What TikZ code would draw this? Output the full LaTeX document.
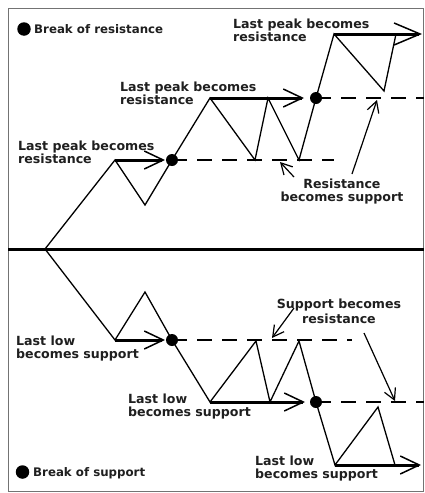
\documentclass[tikz,border=0pt]{standalone}
\usepackage{fontspec}
\setsansfont{DejaVu Sans}
\usetikzlibrary{arrows.meta}
\tikzset{
  price/.style={line width=1.3pt, line join=miter, black},
  level/.style={line width=3pt, black, -{Straight Barb[length=19pt,width=18pt,line width=1.5pt]}},
  bigtip/.style={-{Straight Barb[length=26pt,width=22pt,line width=1.5pt]}},
  dashline/.style={line width=1.4pt, black, dash pattern=on 15pt off 10pt},
  pointer/.style={line width=1.2pt, black, -{Straight Barb[length=11pt,width=12pt,line width=1.2pt]}},
  lbl/.style={font=\sffamily\bfseries\fontsize{12.6}{13}\selectfont, inner sep=0pt, text=black!88},
  lblc/.style={lbl, align=center, anchor=north},
  lbll/.style={lbl, align=left, anchor=north west},
  brk/.style={font=\sffamily\bfseries\fontsize{11.8}{13}\selectfont, inner sep=0pt, text=black!88, anchor=base west},
  dot/.style={circle, fill=black, inner sep=0pt, minimum size=12pt},
  bigdot/.style={circle, fill=black, inner sep=0pt, minimum size=13.5pt}
}
\begin{document}
\begin{tikzpicture}[x=1pt,y=-1pt]
\useasboundingbox (0,0) rectangle (424,493);
\fill[white] (0,0) rectangle (424,493);
\draw[black!55, line width=1pt] (8.5,8.5) rectangle (423.5,491.5);
% divider
\coordinate (mL) at (8,249);
\coordinate (mR) at (424,249);
\draw[line width=3pt] (mL) -- (mR);

% ---------- upper half ----------
\coordinate (o) at (45,249);
\coordinate (p1) at (115,160);
\coordinate (t1) at (145,205);
\coordinate (b1) at (172,160);
\coordinate (p2) at (210,98);
\coordinate (t2a) at (255,160);
\coordinate (p2a) at (268,98);
\coordinate (t2b) at (299,160);
\coordinate (b2) at (316,98);
\coordinate (p3) at (334,34);
\coordinate (t3) at (384,91);
\coordinate (p3a) at (396,34);
\coordinate (a1) at (165,160);
\coordinate (a2) at (304,98);
\coordinate (a3) at (422,34);
\coordinate (e1) at (334,160);
\coordinate (e2) at (424,98);

\draw[dashline] (b1) -- (e1);
\draw[dashline] (b2) -- (e2);
\draw[price] (o) -- (p1) -- (t1) -- (b1) -- (p2) -- (t2a) -- (p2a) -- (t2b) -- (b2) -- (p3) -- (t3) -- (p3a);
\draw[level] (p1) -- (a1);
\draw[level] (p2) -- (a2);
\draw[level, bigtip] (p3) -- (a3);
\node[dot] (d1) at (b1) {};
\node[dot] (d2) at (b2) {};

\node[lbll] (l1) at (18,140.6) {Last peak becomes\\resistance};
\node[lbll] (l2) at (120,81.4) {Last peak becomes\\resistance};
\node[lbll] (l3) at (233,18.4) {Last peak becomes\\resistance};
\node[lblc] (rs) at (342,178.7) {Resistance\\becomes support};
\coordinate (r1s) at (294,177);
\coordinate (r1e) at (280,162);
\coordinate (r2s) at (352,174);
\coordinate (r2e) at (377,100);
\draw[pointer] (r1s) -- (r1e);
\draw[pointer] (r2s) -- (r2e);

\node[bigdot] (kr) at (24,29) {};
\node[brk] (tr) at (34,33.5) {Break of resistance};

% ---------- lower half ----------
\coordinate (q1) at (115,340);
\coordinate (u1) at (145,292);
\coordinate (c1) at (172,340);
\coordinate (q2) at (210,402);
\coordinate (u2a) at (256,341);
\coordinate (q2a) at (270,402);
\coordinate (u2b) at (299,341);
\coordinate (c2) at (316,402);
\coordinate (q3) at (335,465);
\coordinate (u3) at (378,407);
\coordinate (q3a) at (395,465);
\coordinate (g1) at (165,340);
\coordinate (g2) at (305,402);
\coordinate (g3) at (421,465);
\coordinate (f1) at (352,340);
\coordinate (f2) at (424,402);

\draw[dashline] (c1) -- (f1);
\draw[dashline] (c2) -- (f2);
\draw[price] (o) -- (q1) -- (u1) -- (c1) -- (q2) -- (u2a) -- (q2a) -- (u2b) -- (c2) -- (q3) -- (u3) -- (q3a);
\draw[level] (q1) -- (g1);
\draw[level] (q2) -- (g2);
\draw[level] (q3) -- (g3);
\node[dot] (k1) at (c1) {};
\node[dot] (k2) at (c2) {};

\node[lbll] (m1) at (16,335.4) {Last low\\becomes support};
\node[lbll] (m2) at (128,393.4) {Last low\\becomes support};
\node[lbll] (m3) at (255,455.4) {Last low\\becomes support};
\node[lblc] (sr) at (339,298.4) {Support becomes\\[2pt]resistance};
\coordinate (s1s) at (294,308);
\coordinate (s1e) at (272,338);
\coordinate (s2s) at (364,333);
\coordinate (s2e) at (395,401);
\draw[pointer] (s1s) -- (s1e);
\draw[pointer] (s2s) -- (s2e);

\node[bigdot] (ks) at (22.5,472) {};
\node[brk] (ts) at (33,476.5) {Break of support};
\end{tikzpicture}
\end{document}
